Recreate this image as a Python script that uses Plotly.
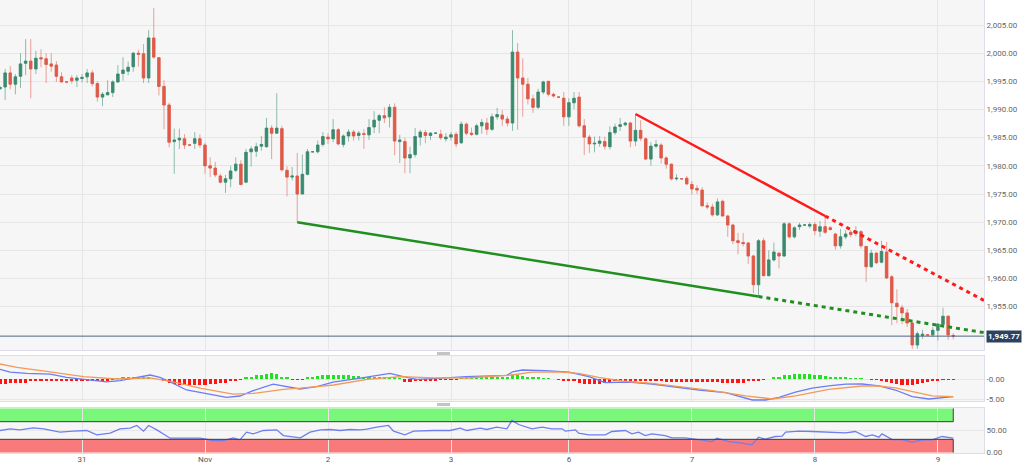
import plotly.graph_objects as go
from plotly.subplots import make_subplots

# ---------------- DATA (hourly XAU/USD candles) ----------------
open_ = [
1993.7, 1994.0, 1996.5, 1994.5, 1995.9, 1998.2, 1998.6, 1997.2, 1999.2, 1999.0,
1998.1, 1997.9, 1995.8, 1994.9, 1995.6, 1995.2, 1995.5, 1995.8, 1996.5, 1994.6,
1992.2, 1992.6, 1993.0, 1994.9, 1996.4, 1996.8, 1997.6, 2000.0, 1999.9, 1995.6,
2002.7, 1999.2, 1994.1, 1990.8, 1984.3, 1984.6, 1984.8, 1983.7, 1984.0, 1984.8,
1983.7, 1980.0, 1979.6, 1978.2, 1977.1, 1977.7, 1979.2, 1980.3, 1977.1, 1982.5,
1982.6, 1983.5, 1983.4, 1986.7, 1985.8, 1986.6, 1979.2, 1978.0, 1978.2, 1975.0,
1978.5, 1982.5, 1982.5, 1983.8, 1985.1, 1984.8, 1986.4, 1983.8, 1985.3, 1986.0,
1985.4, 1985.7, 1985.5, 1986.9, 1988.1, 1988.9, 1988.7, 1990.4, 1984.3, 1984.3,
1981.4, 1982.0, 1985.1, 1985.9, 1985.4, 1985.8, 1985.6, 1984.8, 1985.1, 1985.6,
1984.1, 1987.4, 1985.8, 1985.6, 1987.1, 1987.6, 1986.5, 1988.7, 1989.0, 1988.3,
1987.6, 2000.2, 1995.6, 1994.5, 1991.9, 1990.4, 1993.1, 1995.0, 1992.7, 1992.2,
1992.0, 1988.7, 1991.2, 1992.2, 1987.1, 1985.1, 1983.9, 1984.0, 1984.3, 1983.4,
1985.9, 1987.0, 1987.3, 1987.6, 1984.4, 1986.3, 1984.8, 1981.2, 1983.5, 1983.7,
1981.4, 1980.3, 1977.7, 1977.7, 1977.8, 1976.7, 1976.0, 1975.7, 1972.9, 1972.7,
1971.3, 1973.7, 1971.1, 1969.5, 1966.7, 1966.4, 1966.3, 1964.0, 1958.9, 1966.7,
1960.5, 1963.3, 1964.5, 1964.0, 1969.7, 1967.4, 1969.2, 1969.5, 1969.3, 1969.6,
1968.4, 1969.2, 1969.0, 1967.9, 1965.8, 1967.4, 1968.2, 1968.0, 1968.3, 1965.7,
1962.1, 1964.5, 1962.9, 1964.7, 1960.3, 1955.6, 1954.8, 1953.9, 1952.1, 1948.2,
1949.9, 1950.0, 1950.0, 1950.8, 1951.9, 1953.3, 1949.9]

high = [
1994.2, 1997.2, 1997.7, 1996.3, 2000.0, 2002.5, 2002.5, 2000.4, 2000.7, 2000.0,
2000.0, 1998.6, 1996.6, 1995.0, 1996.1, 1996.1, 1996.3, 1997.2, 1997.0, 1995.0,
1993.1, 1995.2, 1995.2, 1997.9, 1999.3, 1998.5, 2000.2, 2000.6, 2001.6, 2004.1,
2008.0, 1999.3, 1995.2, 1991.2, 1986.6, 1986.6, 1985.6, 1983.8, 1986.0, 1985.6,
1984.1, 1981.5, 1980.7, 1978.6, 1978.4, 1980.0, 1981.5, 1981.0, 1983.0, 1983.5,
1984.1, 1985.3, 1988.5, 1987.2, 1992.9, 1987.1, 1979.9, 1979.8, 1982.3, 1982.0,
1983.0, 1982.6, 1984.5, 1986.0, 1985.8, 1988.3, 1986.7, 1985.6, 1986.5, 1986.4,
1986.2, 1986.5, 1988.3, 1989.7, 1989.2, 1990.4, 1991.0, 1991.1, 1985.5, 1985.0,
1983.4, 1986.7, 1986.4, 1986.4, 1986.0, 1985.9, 1986.4, 1985.8, 1986.0, 1986.0,
1987.9, 1987.7, 1986.8, 1987.5, 1988.3, 1988.5, 1989.3, 1990.3, 1989.9, 1988.8,
2004.1, 2001.8, 1999.1, 1995.6, 1992.6, 1993.7, 1995.1, 1995.1, 1993.0, 1992.3,
1993.1, 1992.0, 1993.1, 1993.1, 1988.3, 1985.5, 1985.2, 1985.3, 1985.2, 1987.0,
1987.5, 1988.5, 1987.8, 1987.8, 1989.2, 1988.1, 1985.0, 1984.2, 1984.6, 1984.0,
1981.7, 1980.4, 1978.5, 1977.8, 1978.2, 1977.3, 1976.6, 1976.2, 1973.5, 1973.3,
1974.2, 1974.0, 1971.3, 1969.7, 1968.1, 1968.1, 1966.5, 1964.2, 1967.0, 1967.2,
1965.0, 1966.4, 1964.7, 1970.0, 1970.0, 1969.3, 1969.9, 1969.6, 1970.0, 1970.0,
1970.2, 1971.1, 1969.3, 1968.1, 1968.8, 1968.6, 1968.6, 1969.3, 1968.6, 1965.7,
1965.1, 1964.7, 1966.7, 1966.5, 1960.6, 1958.1, 1955.3, 1954.6, 1952.2, 1950.6,
1950.9, 1950.1, 1951.4, 1952.1, 1954.8, 1953.5, 1950.3]

low = [
1993.5, 1991.7, 1993.6, 1992.7, 1993.8, 1996.1, 1992.0, 1996.3, 1997.5, 1994.7,
1996.7, 1994.9, 1994.8, 1994.8, 1994.6, 1994.0, 1994.8, 1994.7, 1994.1, 1991.4,
1990.6, 1992.6, 1992.2, 1994.7, 1995.1, 1996.1, 1996.7, 1997.6, 1994.7, 1994.7,
1999.0, 1992.5, 1986.5, 1983.3, 1978.6, 1983.0, 1983.0, 1983.6, 1983.0, 1983.2,
1978.6, 1978.0, 1978.0, 1976.9, 1975.2, 1976.2, 1978.9, 1976.5, 1977.1, 1979.9,
1981.6, 1982.7, 1983.2, 1981.2, 1985.8, 1979.0, 1974.6, 1977.4, 1970.0, 1975.0,
1978.3, 1982.4, 1982.2, 1983.4, 1983.9, 1984.2, 1983.6, 1983.3, 1984.3, 1984.5,
1984.5, 1983.0, 1984.6, 1985.8, 1985.8, 1987.6, 1986.8, 1981.9, 1980.5, 1978.7,
1978.7, 1981.5, 1983.6, 1984.0, 1984.6, 1985.7, 1984.6, 1984.3, 1984.5, 1983.3,
1983.9, 1985.4, 1985.3, 1985.4, 1985.7, 1985.5, 1986.2, 1988.2, 1987.1, 1987.0,
1986.2, 1986.4, 1988.7, 1990.9, 1989.4, 1990.1, 1992.7, 1992.3, 1992.1, 1992.1,
1987.1, 1987.1, 1990.1, 1986.8, 1981.9, 1982.3, 1982.4, 1983.4, 1982.9, 1982.9,
1985.5, 1986.2, 1987.0, 1983.3, 1983.5, 1984.4, 1981.0, 1980.0, 1983.1, 1980.4,
1979.5, 1977.4, 1977.4, 1977.6, 1976.6, 1974.9, 1975.0, 1972.8, 1972.3, 1971.0,
1971.1, 1971.0, 1967.4, 1966.1, 1964.3, 1965.7, 1962.6, 1957.4, 1956.8, 1960.4,
1960.4, 1963.0, 1961.8, 1963.8, 1967.1, 1967.1, 1968.6, 1969.4, 1968.9, 1967.7,
1967.4, 1967.9, 1968.5, 1965.1, 1965.3, 1967.0, 1967.3, 1967.5, 1965.3, 1959.4,
1961.9, 1962.6, 1962.7, 1959.9, 1951.7, 1952.1, 1951.9, 1951.4, 1947.5, 1947.5,
1949.3, 1949.9, 1949.6, 1949.0, 1951.4, 1949.1, 1949.2]

close = [
1993.9, 1996.5, 1994.5, 1995.8, 1998.1, 1998.6, 1997.2, 1999.1, 1999.0, 1998.0,
1997.7, 1995.9, 1994.9, 1994.9, 1995.1, 1995.6, 1995.7, 1996.5, 1994.6, 1992.2,
1992.7, 1993.0, 1994.9, 1996.3, 1997.0, 1997.5, 2000.0, 1999.8, 1995.6, 2002.7,
1999.3, 1994.1, 1990.8, 1984.2, 1984.6, 1984.9, 1983.7, 1983.7, 1984.8, 1983.7,
1980.0, 1979.6, 1978.4, 1977.1, 1977.7, 1979.1, 1980.3, 1976.7, 1982.4, 1983.0,
1983.4, 1983.8, 1986.7, 1985.8, 1986.7, 1979.3, 1978.0, 1978.2, 1975.0, 1978.5,
1982.5, 1982.5, 1983.7, 1985.2, 1984.8, 1986.4, 1983.9, 1985.3, 1986.0, 1985.3,
1985.8, 1985.6, 1986.8, 1988.1, 1988.9, 1988.5, 1990.4, 1984.4, 1984.6, 1981.4,
1982.0, 1985.2, 1986.0, 1985.4, 1985.8, 1985.8, 1985.0, 1985.1, 1985.5, 1983.9,
1987.4, 1985.8, 1985.6, 1987.1, 1987.7, 1986.5, 1988.7, 1989.1, 1988.3, 1987.6,
2000.2, 1995.6, 1994.5, 1991.9, 1990.4, 1993.1, 1994.9, 1992.7, 1992.4, 1992.2,
1988.7, 1991.2, 1992.0, 1987.1, 1985.1, 1983.9, 1984.0, 1984.4, 1983.5, 1985.9,
1986.9, 1987.3, 1987.6, 1984.4, 1986.3, 1984.9, 1981.2, 1983.5, 1983.8, 1981.4,
1980.3, 1977.7, 1977.8, 1977.7, 1976.8, 1975.9, 1975.7, 1972.9, 1972.7, 1971.3,
1973.6, 1971.1, 1969.5, 1966.7, 1966.4, 1966.2, 1964.0, 1958.9, 1966.7, 1960.5,
1963.3, 1964.7, 1964.0, 1969.7, 1967.4, 1969.0, 1969.5, 1969.5, 1969.6, 1968.5,
1969.2, 1968.2, 1968.7, 1965.8, 1967.4, 1967.9, 1967.8, 1968.4, 1965.8, 1962.1,
1964.5, 1962.8, 1964.8, 1960.1, 1955.7, 1955.0, 1953.9, 1952.1, 1948.2, 1950.2,
1950.1, 1950.0, 1950.8, 1951.9, 1953.3, 1950.0, 1949.77]

# day boundaries (candle index) and their labels
day_ticks = [16, 40, 64, 88, 111, 135, 159, 183]
day_labels = ["31", "Nov", "2", "3", "6", "7", "8", "9"]

price_ticks = [1955, 1960, 1965, 1970, 1975, 1980, 1985, 1990, 1995, 2000, 2005]

# trend lines: (candle index, price)
green_solid_x = [58, 148]
green_solid_y = [1970.0, 1956.8]
green_dot_x = [148, 192]
green_dot_y = [1956.8, 1950.4]
red_solid_x = [124, 161]
red_solid_y = [1989.2, 1971.1]
red_dot_x = [161, 192]
red_dot_y = [1971.1, 1956.1]

# MACD line / signal line vertices (candle index, value)
macd_x = [0, 2, 5.2, 9.8, 13, 16.3, 20.8, 23.4, 26.7, 29.3, 31.2, 33.2, 36.4, 40.3, 44.2,
          46.8, 49.4, 53.3, 56, 58.5, 61.8, 65, 70.3, 76.1, 78.7, 81.3, 84.6, 91, 98.9,
          100, 101.9, 106.4, 111, 114.9, 118.1, 122.7, 127.2, 131.1, 136.4, 141.6, 146.8,
          149.4, 152, 155.2, 158.5, 161.7, 165, 168.2, 171.5, 174.7, 178, 181.2, 183.8, 186]
macd_y = [2.4, 1.7, 1.4, 1.2, 0.4, 0.0, -0.7, -0.4, 0.4, 1.0, 0.4, -0.7, -2.75, -3.6, -4.6,
          -4.25, -2.9, -1.3, -1.9, -2.5, -1.9, -0.8, 0.2, 1.4, 0.6, -0.1, 0.1, 0.6, 0.9,
          1.8, 2.25, 2.1, 1.7, 0.6, -0.9, -0.75, -1.25, -1.9, -2.75, -3.4, -5.25,
          -5.25, -4.6, -3.3, -2.3, -1.7, -1.3, -1.25, -1.7, -2.75, -4.4, -5.0, -4.7, -4.4]
signal_x = [0, 3.3, 9.8, 16.3, 22.8, 29.3, 33.8, 39, 45.5, 49.4, 55.3, 58.6, 65.1, 71.6,
            78.1, 84.6, 91.1, 99.9, 103.8, 109, 112.9, 116.8, 121.4, 127.2, 132.5, 139,
            145.5, 150.7, 155.2, 161.7, 168.2, 171.5, 174.7, 178, 181.9, 186]
signal_y = [3.75, 2.9, 1.8, 0.6, 0.0, 0.3, -0.7, -2.3, -3.8, -3.6, -2.6, -2.3, -1.5, -0.1,
            0.6, 0.3, 0.25, 1.0, 1.7, 1.8, 1.4, 0.4, -0.5, -1.1, -1.9, -2.9,
            -4.2, -5.0, -4.2, -2.6, -1.75, -1.75, -2.2, -3.2, -4.2, -4.4]

# MACD histogram, one value per candle
macd_hist = [
-1.2, -1.2, -1.1, -1.1, -1.0, -0.9,
-0.6, -0.6, -0.5, -0.5, -0.4, -0.4,
-0.3, -0.3, -0.3, -0.3, -0.3, -0.4, -0.4, -0.4, -0.4, -0.3,
-0.1,
0.2, 0.3, 0.4, 0.5, 0.5, 0.5, 0.4, 0.2,
0.0,
-0.6, -1.0, -1.3, -1.5, -1.5, -1.5, -1.5, -1.4, -1.4, -1.3, -1.3, -1.1, -0.9, -0.6, -0.3, -0.2,
0.3, 0.6, 0.9, 1.1, 1.3, 1.5, 1.3, 0.6, 0.3,
-0.1, -0.1, -0.1,
0.3, 0.6, 0.8, 0.9, 1.0, 1.0, 1.0, 1.0, 0.9, 0.8, 0.7, 0.6, 0.6, 0.5, 0.5, 0.4, 0.3, 0.3, 0.2,
-0.7, -0.8, -0.6, -0.4, -0.3, -0.3, -0.3, -0.2, -0.2, -0.1, -0.1,
0.3, 0.3, 0.3, 0.4, 0.4, 0.4, 0.3, 0.3, 0.3, 0.3,
1.2, 1.0, 0.8, 0.6, 0.4, 0.3, 0.2, 0.1, 0.0,
-0.2, -0.3, -0.4, -0.6, -1.0, -1.2, -1.3, -1.3, -1.2, -1.1, -1.0,
-0.6, -0.6, -0.5, -0.5, -0.5, -0.6, -0.6, -0.6, -0.6, -0.6, -0.7, -0.7, -0.7, -0.7, -0.7,
-0.7, -0.8, -0.8, -0.8, -0.8, -0.8,
-0.9, -1.0, -1.0, -1.1, -1.0, -0.6, -0.4, -0.3, -0.1, 0.0,
0.3, 0.6, 0.9, 1.1, 1.2, 1.3, 1.3, 1.2, 1.1, 0.9, 0.8, 0.6, 0.5, 0.4, 0.3, 0.2, 0.1, 0.1,
0.0, -0.1, -0.2,
-0.4, -0.7, -1.0, -1.2, -1.4, -1.5, -1.5, -1.3, -1.1, -0.8, -0.6, -0.4, -0.2, -0.1, -0.1]

# RSI vertices (candle index, value)
rsi_x = [0, 2.0, 3.9, 6.5, 8.5, 11.7, 14.3, 16.9, 18.9, 21.5, 23.4, 25.4, 26.7, 28.0, 29.0,
         30.6, 33.2, 36.4, 39.0, 41.6, 43.6, 45.5, 46.8, 48.1, 49.4, 51.4, 54.0, 55.3, 57.3,
         58.6, 60.5, 62.5, 64.4, 66.4, 68.3, 70.3, 71.6, 73.5, 75.8, 76.8, 79.0, 80.7, 84.6,
         87.8, 89.8, 91.1, 93.7, 95.0, 96.9, 98.9, 99.9, 101.2, 103.8, 105.8, 107.7, 109.7,
         110.3, 112.3, 112.9, 114.9, 118.1, 119.4, 122.0, 123.3, 124.6, 125.9, 127.2, 129.8,
         131.1, 133.7, 136.3, 138.9, 139.9, 142.2, 144.8, 146.7, 148.0, 149.3, 151.3, 152.6,
         153.3, 155.9, 158.5, 162.4, 165.0, 166.9, 168.9, 170.2, 171.5, 172.1, 174.1, 176.0,
         178.0, 179.9, 181.9, 183.8, 185.1, 186.0]
rsi_y = [50.0, 53.8, 51.5, 56.1, 53.8, 46.2, 48.5, 50.0, 40.2, 43.9, 53.8, 55.3, 61.4, 48.5, 61.4,
         51.5, 32.6, 33.3, 32.6, 27.3, 27.3, 33.3, 28.8, 46.2, 42.4, 50.0, 51.5, 38.6, 36.4,
         33.3, 46.2, 51.5, 52.3, 50.0, 52.3, 51.5, 53.0, 57.6, 61.4, 48.5, 40.2, 48.5, 50.0,
         50.0, 55.3, 50.0, 55.3, 52.3, 57.6, 53.8, 72.7, 63.6, 53.8, 57.6, 53.8, 53.8,
         48.5, 51.5, 43.9, 40.2, 40.2, 47.7, 50.0, 42.4, 46.2, 38.6, 42.4, 38.6,
         33.3, 33.3, 29.5, 25.0, 32.6, 25.0, 21.2, 17.4, 34.8, 30.3, 36.4, 37.1,
         46.2, 48.5, 47.7, 46.2, 44.7, 47.7, 36.4, 40.2, 34.8, 42.4, 29.5, 29.5,
         23.5, 28.8, 28.8, 36.4, 33.3, 32.6]
rsi_levels = [30, 70, 100]

assert len(open_) == len(high) == len(low) == len(close) == len(macd_hist)
assert len(macd_x) == len(macd_y) and len(signal_x) == len(signal_y) and len(rsi_x) == len(rsi_y)

# ---------------- STYLE ----------------
GREEN = "#3a8a6f"
RED = "#df5a48"
GREEN_WICK = "rgba(58,138,111,0.55)"
RED_WICK = "rgba(223,90,72,0.55)"
GRID = "#e6e6e6"
BORDER = "#dcdde8"
FONT = "Roboto"

idx = list(range(len(close)))
body_hi = [max(o, c) for o, c in zip(open_, close)]
body_lo = [min(o, c) for o, c in zip(open_, close)]

fig = make_subplots(rows=3, cols=1, shared_xaxes=True, vertical_spacing=0.01)

# wicks (light)
fig.add_trace(go.Candlestick(
    x=idx, open=open_, high=high, low=low, close=close,
    increasing=dict(line=dict(color=GREEN_WICK, width=1), fillcolor=GREEN_WICK),
    decreasing=dict(line=dict(color=RED_WICK, width=1), fillcolor=RED_WICK),
    hoverinfo="skip", whiskerwidth=0), row=1, col=1)
# bodies (solid)
fig.add_trace(go.Candlestick(
    x=idx, open=open_, high=body_hi, low=body_lo, close=close,
    increasing=dict(line=dict(color=GREEN, width=0.5), fillcolor=GREEN),
    decreasing=dict(line=dict(color=RED, width=0.5), fillcolor=RED),
    hoverinfo="skip", whiskerwidth=0), row=1, col=1)

# trend lines
fig.add_trace(go.Scatter(x=green_solid_x, y=green_solid_y, mode="lines",
                         line=dict(color="#1f8f1f", width=2.5)), row=1, col=1)
fig.add_trace(go.Scatter(x=green_dot_x, y=green_dot_y, mode="lines",
                         line=dict(color="#1f8f1f", width=3, dash="4px,4px")), row=1, col=1)
fig.add_trace(go.Scatter(x=red_solid_x, y=red_solid_y, mode="lines",
                         line=dict(color="#ff1a1a", width=2.5)), row=1, col=1)
fig.add_trace(go.Scatter(x=red_dot_x, y=red_dot_y, mode="lines",
                         line=dict(color="#ff1a1a", width=3, dash="4px,4px")), row=1, col=1)

# MACD
hist_colors = ["#22e022" if v > 0 else "#ff1414" for v in macd_hist]
fig.add_trace(go.Bar(x=idx, y=macd_hist, marker=dict(color=hist_colors, line=dict(width=0)),
                     width=0.62), row=2, col=1)
fig.add_trace(go.Scatter(x=macd_x, y=macd_y, mode="lines",
                         line=dict(color="#6b7cf6", width=1.3)), row=2, col=1)
fig.add_trace(go.Scatter(x=signal_x, y=signal_y, mode="lines",
                         line=dict(color="#f59a55", width=1.3)), row=2, col=1)

# RSI
fig.add_trace(go.Scatter(x=rsi_x, y=rsi_y, mode="lines",
                         line=dict(color="#6e7ff0", width=1.3)), row=3, col=1)

# RSI bands
fig.add_shape(type="rect", xref="x3", yref="y3", x0=idx[0], x1=idx[-1],
              y0=rsi_levels[1], y1=rsi_levels[2], fillcolor="#7af77a",
              line=dict(width=0), layer="below")
fig.add_shape(type="rect", xref="x3", yref="y3", x0=idx[0], x1=idx[-1],
              y0=0, y1=rsi_levels[0], fillcolor="#f87a7a",
              line=dict(width=0), layer="below")
for lvl in (rsi_levels[1], rsi_levels[0]):
    fig.add_shape(type="line", xref="x3", yref="y3", x0=idx[0], x1=idx[-1],
                  y0=lvl, y1=lvl, line=dict(color="#3c3c3c", width=1))
fig.add_shape(type="line", xref="x3", yref="y3", x0=idx[-1], x1=idx[-1],
              y0=rsi_levels[1], y1=rsi_levels[2], line=dict(color="#3c3c3c", width=1))
fig.add_shape(type="line", xref="x3", yref="y3", x0=idx[-1], x1=idx[-1],
              y0=0, y1=rsi_levels[0], line=dict(color="#3c3c3c", width=1))

# last price line and label
last_price = close[-1]
fig.add_shape(type="line", xref="paper", yref="y", x0=0, x1=1, y0=last_price, y1=last_price,
              line=dict(color="#4d6386", width=1))
fig.add_annotation(xref="paper", yref="y", x=1, y=last_price, xanchor="left", yanchor="middle",
                   xshift=2, text=f"<b>{last_price:,.2f}</b>", showarrow=False,
                   bgcolor="#2d4260", font=dict(color="white", size=8, family=FONT),
                   borderpad=1)

# panel drag handles
H = 453.0
for top in (352, 403):
    fig.add_shape(type="rect", xref="paper", yref="paper", x0=437 / 984, x1=450 / 984,
                  y0=1 - (top + 3) / H, y1=1 - top / H, fillcolor="#c4c4c4",
                  line=dict(width=0))

fig.update_layout(
    width=1024, height=463,
    margin=dict(l=0, r=40, t=0, b=10, autoexpand=False),
    paper_bgcolor="white", plot_bgcolor="#f6f6f6",
    showlegend=False, bargap=0,
    font=dict(family=FONT, size=9, color="#666666"),
)

for ax in ("xaxis", "xaxis2", "xaxis3"):
    fig.layout[ax].update(
        range=[0, 192], showgrid=True, gridcolor=GRID, gridwidth=1,
        tickvals=day_ticks, ticktext=day_labels, zeroline=False,
        showline=True, mirror=True, linecolor=BORDER, linewidth=1,
        rangeslider=dict(visible=False), ticks="", automargin=False,
    )
fig.layout.xaxis.showticklabels = False
fig.layout.xaxis2.showticklabels = False
fig.layout.xaxis3.showticklabels = True
fig.layout.xaxis3.tickfont = dict(size=8, color="#555555", family=FONT)
fig.layout.xaxis3.ticklabelstandoff = -2

common_y = dict(side="right", showgrid=True, gridcolor=GRID, zeroline=False,
                showline=True, mirror=True, linecolor=BORDER, linewidth=1, ticks="",
                automargin=False,
                tickfont=dict(size=8, color="#666666", family=FONT))
fig.layout.yaxis.update(domain=[1 - 350 / H, 1], range=[1947.31, 2009.44],
                        tickvals=price_ticks, tickformat=",.2f", **common_y)
fig.layout.yaxis2.update(domain=[1 - 401 / H, 1 - 356 / H], range=[-5.5, 5.75],
                         tickvals=[0, -5], ticktext=["-0.00", "-5.00"], **common_y)
fig.layout.yaxis3.update(domain=[0, 1 - 408 / H], range=[-1, 101],
                         tickvals=[0, 50], ticktext=["0.00", "50.00"], **common_y)

fig.write_html("out.html",
               config={"displayModeBar": False},
               post_script="document.body.style.margin='0px';document.body.style.overflow='hidden';")
